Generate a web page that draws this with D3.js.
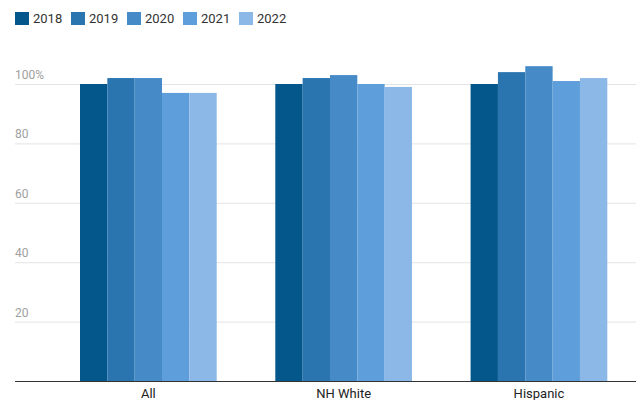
<!DOCTYPE html>
<html>
<head>
<meta charset="utf-8">
<script src="https://cdn.jsdelivr.net/npm/d3@7"></script>
<style>
  body { margin: 0; background: #fff; }
  svg { display: block; font-family: Roboto, "Noto Sans", sans-serif; }
</style>
</head>
<body>
<svg id="chart" width="641" height="400"></svg>
<script>
// Groups along the x axis
const categories = ["All", "NH White", "Hispanic"];
// One series per year, values are % of the 2018 level
const years = ["2018", "2019", "2020", "2021", "2022"];
const values2018 = [100, 100, 100];
const values2019 = [102, 102, 104];
const values2020 = [102, 103, 106];
const values2021 = [97, 100, 101];
const values2022 = [97, 99, 102];
const yTicks = [20, 40, 60, 80, 100];
const colors = ["#04578a", "#2a74b0", "#468bc7", "#5e9edb", "#8cb8e8"];

const series = [values2018, values2019, values2020, values2021, values2022];
const rows = categories.map((c, i) => ({
  category: c,
  values: years.map((y, j) => ({ year: y, value: series[j][i] }))
}));

const svg = d3.select("#chart");
const left = 15, right = 636, baseY = 381, topY = 84;

const y = d3.scaleLinear().domain([0, 100]).range([baseY, topY]);
const x0 = d3.scaleBand().domain(categories).range([50.7, 636.6])
  .paddingInner(0.3).paddingOuter(0.15);
const x1 = d3.scaleBand().domain(years).range([0, x0.bandwidth()]);
const color = d3.scaleOrdinal().domain(years).range(colors);

// Horizontal gridlines with labels above them
const grid = svg.append("g");
grid.selectAll("line").data(yTicks).join("line")
  .attr("x1", left).attr("x2", right)
  .attr("y1", d => y(d) + 0.5).attr("y2", d => y(d) + 0.5)
  .attr("stroke", "#e4e4e4").attr("stroke-width", 1);
grid.selectAll("text").data(yTicks).join("text")
  .attr("x", left).attr("y", d => y(d) - 5)
  .attr("fill", "#a0a0a0").attr("font-size", 12)
  .text(d => d === 100 ? d + "%" : d);

// Bars
svg.append("g").selectAll("g").data(rows).join("g")
  .attr("transform", d => `translate(${x0(d.category)},0)`)
  .selectAll("rect").data(d => d.values).join("rect")
  .attr("x", d => x1(d.year))
  .attr("width", x1.bandwidth())
  .attr("y", d => y(d.value))
  .attr("height", d => baseY - y(d.value))
  .attr("fill", d => color(d.year));

// Baseline axis and category labels
const xAxis = d3.axisBottom(x0).tickSize(0);
const ax = svg.append("g").attr("transform", `translate(0,${baseY})`).call(xAxis);
ax.select(".domain").remove();
ax.selectAll("text").attr("y", 16.5).attr("dy", null)
  .attr("font-size", 13).attr("fill", "#222")
  .attr("font-family", "Roboto, 'Noto Sans', sans-serif");
svg.append("line")
  .attr("x1", left).attr("x2", right)
  .attr("y1", baseY + 0.5).attr("y2", baseY + 0.5)
  .attr("stroke", "#333").attr("stroke-width", 1);

// Legend
const legend = svg.append("g").selectAll("g").data(years).join("g")
  .attr("transform", (d, i) => `translate(${15 + i * 56},12)`);
legend.append("rect").attr("width", 14).attr("height", 13)
  .attr("fill", d => color(d));
legend.append("text").attr("x", 18).attr("y", 10.5)
  .attr("font-size", 13).attr("fill", "#333").text(d => d);
</script>
</body>
</html>
